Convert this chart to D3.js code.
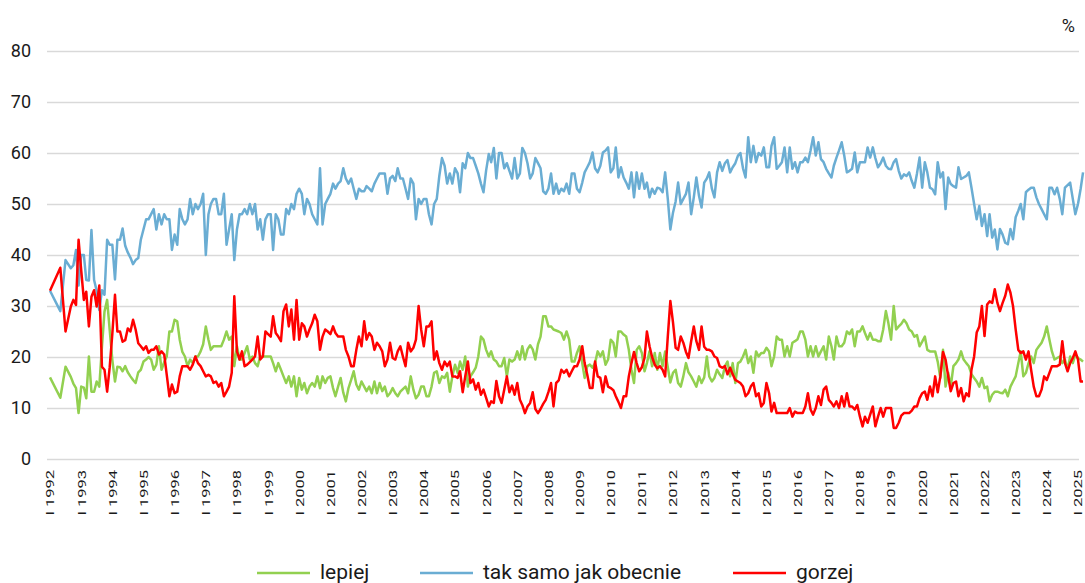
<!DOCTYPE html>
<html>
<head>
<meta charset="utf-8">
<script src="https://cdnjs.cloudflare.com/ajax/libs/d3/7.8.5/d3.min.js"></script>
<style>
  body { margin: 0; background: #ffffff; }
  svg { display: block; }
</style>
</head>
<body>
<div id="chart"></div>
<script>

//--------------------------------------
// DATA
//--------------------------------------

// 1992 had only a few survey months, monthly from 1993 on
const firstYearMonths = ["1992-01", "1992-05", "1992-07", "1992-09", "1992-10", "1992-11", "1992-12"];

const yTicks = [0, 10, 20, 30, 40, 50, 60, 70, 80];

const seriesNames = ["lepiej", "tak samo jak obecnie", "gorzej"];

const lepiej = [
  16, 12, 18.1, 16.1, 14.8, 13.9, 9,
  14.2, 14, 11.9, 20.1, 13.2, 13.2, 15.2, 14.2, 22, 28.9, 31.2, 25.3,
  19.4, 15.2, 18.1, 18, 17.2, 18.2, 17, 16.2, 15.5, 14.9, 17, 17.5,
  19.1, 19.5, 20, 19.5, 17.5, 18.5, 22.1, 17.5, 19, 20.1, 25, 25,
  27.3, 27, 23.4, 21, 20.1, 18.2, 19.5, 18.8, 20.1, 20.1, 21.1, 22.5,
  26, 23.4, 21.4, 22.1, 22.1, 22.1, 22.1, 23.4, 25, 23.4, 24, 18.2,
  22.1, 19.5, 19.5, 20.8, 22.1, 19.5, 20.1, 18.8, 18.2, 20.1, 20.1, 20.1,
  20.1, 20.1, 18.8, 17.2, 18.8, 17.5, 16.2, 14.9, 16.2, 14.2, 16.2, 12.3,
  15.9, 13.6, 14.9, 12.9, 14.2, 14.9, 14.2, 16.2, 13.9, 16.2, 14.9, 15.9,
  16.2, 13.9, 12.3, 14.2, 15.9, 13, 11.3, 13.9, 15.5, 17.2, 14.6, 13.6,
  15.2, 14.2, 13.3, 14.2, 12.9, 15.2, 12.9, 14.9, 13.3, 14.2, 12.3, 12.9,
  13.9, 12.9, 12.3, 13.2, 13.7, 14.2, 12.9, 16.2, 13.6, 11.9, 12.6, 14.2,
  14.2, 12.3, 12.3, 14.2, 16.9, 17.2, 14.9, 16.2, 15.9, 16.9, 13.2, 16.2,
  18.5, 16.9, 19.1, 17.5, 20.1, 14.2, 16.2, 17, 17.9, 20.1, 24, 23.4,
  21.4, 20.1, 21.1, 19.5, 19.1, 18.2, 18.2, 19.8, 16.2, 19.5, 19.1, 19.5,
  21.1, 19.5, 22.1, 19.5, 21.5, 22.3, 21.5, 19.5, 22.5, 24, 28, 28,
  26, 26, 25.4, 25.2, 25, 24.7, 23.4, 25, 23.4, 19.1, 19.1, 20.8,
  22.1, 18.8, 15.9, 18.2, 18.5, 17.9, 18.8, 21.1, 20.1, 21.1, 18.5, 19.5,
  23.4, 22.8, 20.1, 25, 25, 24.4, 24, 21.4, 17.5, 14.9, 21.4, 22.1,
  20.8, 17.2, 18.8, 21.1, 18.2, 20.8, 17.5, 20.8, 18.2, 21.1, 18, 15,
  16.9, 17.5, 14.9, 14.2, 16.2, 18.8, 17, 16.2, 15.2, 14.2, 16.2, 14.9,
  16, 20.1, 16.2, 15.2, 15.9, 17.5, 16.6, 15.9, 18.2, 19.1, 16.2, 18.8,
  14.9, 18.8, 19.1, 20.1, 21.4, 18.8, 20.1, 16.9, 21.1, 20.1, 20.8, 20.8,
  21.8, 21.1, 18.2, 20.1, 24, 23.4, 23.4, 20.1, 22.1, 20.1, 22.8, 23.1,
  23.5, 25, 25, 23.4, 20.1, 22.1, 20.1, 22.1, 20.1, 21.1, 22.1, 19.5,
  24, 22.1, 19.5, 24, 22.1, 22.1, 22.8, 25, 24.5, 25.4, 22.1, 25,
  25, 26, 24.7, 23.4, 24.7, 23.4, 23.4, 23.1, 23.1, 25.4, 29, 26.6,
  23.4, 30, 25.4, 26, 26.5, 27.3, 26.6, 25.4, 25, 24, 24.3, 22.1,
  23, 24, 21.4, 21.1, 21.1, 21.1, 19.1, 15.9, 21.4, 14.2, 16.9, 14.2,
  18.2, 18.8, 19.5, 21.1, 19.5, 18.8, 18.2, 16.6, 15.9, 15.2, 14.2, 15.9,
  13.9, 14.2, 11.3, 12.6, 13.2, 13.2, 13, 12.9, 13.6, 12.3, 14.2, 15.2,
  16.2, 18.8, 21.1, 16.2, 16.9, 18.8, 20.1, 18.8, 21.4, 22.1, 22.8, 24,
  26, 23.4, 21.1, 19.5, 19.8, 20.1, 18.8, 19.5, 17.5, 20.1, 18.8, 20.5,
  19.8, 19.5, 19.1
];

const takSamo = [
  33, 29, 39, 37.4, 38, 41, 34,
  40, 40, 35.1, 35, 44.9, 35.1, 33, 29.2, 33.1, 32.2, 43, 42,
  42, 35.2, 43, 43, 45.2, 41.8, 40.5, 39.5, 38.2, 39, 39.4, 43,
  45, 47, 47, 48, 49, 45, 48, 46, 48, 47, 47, 41,
  44, 42, 49, 47, 46, 47, 51, 48, 50, 49, 50, 52,
  40, 48, 50, 51, 51, 48, 48, 52, 42, 45, 48, 39,
  45, 48, 48, 49, 48, 50, 48, 50, 45, 47, 43, 47,
  48, 48, 41, 48, 47, 44, 44, 49, 48, 50, 49, 52,
  53, 52, 48, 51, 50, 48, 47, 46, 57, 46, 50, 51,
  52, 54, 53, 54, 54.5, 57, 55, 54, 55, 53, 51, 53,
  52.5, 52.5, 53.5, 53, 52.5, 54, 55, 56, 56, 56, 52, 55,
  55.5, 54.5, 57, 55, 55, 53, 51, 55, 54, 47, 51, 50,
  51, 51, 48, 46, 50, 51, 55.5, 59, 57.5, 54, 56, 54,
  57, 56, 52.3, 58, 57, 60, 59, 59, 57.5, 56, 54, 52.3,
  56.6, 59.8, 58.2, 61, 55, 60, 60, 57, 58, 56.5, 55, 59,
  55, 56, 61, 60, 58, 55, 56, 59, 58, 57, 52.5, 52,
  53, 56, 52, 54, 52, 53, 52.5, 54, 52, 56, 56, 53,
  52.3, 54.2, 56.2, 57.2, 58.2, 60.1, 57, 56.2, 57.5, 60.1, 60.5, 61.1,
  56.2, 57, 61.1, 55.2, 57.2, 55.2, 54.2, 53, 56.2, 51.3, 56.2, 53,
  56, 53, 54.2, 51.3, 53, 52, 53.2, 53, 52.3, 56.2, 51, 45,
  48.3, 50.5, 54.2, 50, 51, 52, 54.2, 48, 51.3, 55.2, 51.6, 49.3,
  54.2, 55, 56.2, 53, 51.3, 56.2, 58.2, 56.5, 58, 58.6, 56.2, 57.2,
  58, 59.5, 60, 57, 55.2, 63.1, 58.2, 61.4, 58.2, 60, 59.5, 61.1,
  57.2, 57.2, 61.4, 63.1, 56.9, 57.5, 58.2, 61.1, 56.2, 61.1, 56.9, 58.2,
  56.2, 58.2, 58.2, 59.1, 58.2, 60.5, 63.1, 59.5, 62.1, 58.8, 58.2, 56.9,
  56, 55.2, 57.5, 59.1, 60.5, 62.1, 59.5, 56.2, 56.5, 56.9, 60.1, 56.2,
  58.2, 58.2, 58.2, 61.1, 59.1, 61.1, 59, 57.2, 58, 59.1, 57.5, 56.9,
  56.8, 58.2, 58.8, 56.5, 55, 55.8, 55.5, 56.2, 54.5, 53.2, 56, 59.1,
  53.2, 58.2, 56.2, 53.2, 52.9, 51.9, 58.2, 55.2, 56.2, 49, 55.2, 53.9,
  53.5, 53.2, 57.2, 54.9, 55.2, 55.5, 56.2, 53.2, 50, 47, 49.6, 45.7,
  48, 43.7, 48, 43.4, 45, 41.1, 45.1, 44, 42.4, 42.1, 45.1, 43.1,
  47.4, 48.7, 50, 47, 52.3, 52.8, 53.2, 53.2, 51.3, 50, 49, 48,
  47, 53.2, 53.2, 51.9, 53.2, 51, 48, 53.2, 53.7, 54.2, 51, 48,
  50, 53, 56.2
];

const gorzej = [
  33, 37.5, 25, 29.9, 31.2, 30.2, 43,
  37, 31.2, 32.8, 26, 31.8, 33.1, 29.9, 34, 18.1, 17.5, 13.2, 18,
  24.6, 32.2, 25, 25, 23, 23.3, 25.6, 25, 27.3, 25.4, 22.7, 22.1,
  21.4, 22.1, 20.8, 21.4, 21.4, 22.1, 20.5, 21.1, 20.5, 16.5, 12.3, 14.6,
  12.9, 13.2, 16.2, 18.2, 18.2, 18.2, 17.5, 18.5, 20.1, 18.8, 18.2, 17.2,
  16.2, 16.5, 16.2, 14.9, 15.2, 14.2, 14.9, 12.3, 13.2, 14.2, 16.9, 31.9,
  21.1, 19.5, 21.1, 18.2, 18.5, 19, 19.5, 20.1, 24, 19.5, 20.1, 25,
  24.5, 24, 28, 24.7, 24, 23.1, 29, 30.3, 26, 29.3, 23.4, 31.2,
  23.4, 26.6, 26, 24, 25.4, 26.6, 28.3, 27, 21.4, 24, 25.4, 25,
  24.5, 26, 24.7, 24, 24, 24, 21.4, 20.1, 18.2, 18.2, 21.4, 24,
  22.1, 27, 23.4, 24.7, 24, 21.4, 22.8, 22.1, 21.1, 18.2, 19.5, 22.8,
  19.8, 19.5, 21.1, 22.1, 20.1, 18.2, 22.8, 21.1, 21.8, 23.4, 30, 25.4,
  22.1, 26, 26, 27, 19.5, 21.1, 18.8, 17.5, 19.1, 18.2, 19.1, 16.2,
  16.2, 15.9, 17.2, 13.1, 16.2, 19.1, 14.9, 15.6, 13.6, 14.9, 12.6, 13.6,
  12, 10.3, 11.3, 11, 15.3, 12.3, 11, 13.6, 16.2, 13.1, 14.4, 12.6,
  14.9, 11.6, 10.6, 9, 10.3, 11, 13.1, 9.8, 9, 9.8, 10.8, 11.6,
  13.1, 14.9, 10.3, 14.9, 15.4, 17.5, 16.9, 17.5, 16.2, 17.2, 18.2, 18.2,
  19.5, 22.1, 18.8, 16.5, 13.9, 13.9, 19.1, 16.2, 15.9, 13.1, 16.2, 14.2,
  13.9, 13.5, 12.3, 11.2, 10, 12.3, 12.3, 16.2, 18.8, 21, 18.8, 17.2,
  18, 19.8, 25, 22.1, 20, 18.5, 17.8, 18.2, 17.5, 16.2, 24, 31,
  26.8, 21.8, 21.4, 24, 22.8, 21, 19.8, 23.1, 26, 23.1, 21.4, 26,
  22, 21.4, 21.4, 21.1, 20.1, 19.8, 18.2, 17.9, 18.2, 16.6, 17.9, 16.6,
  15.5, 15.2, 14.9, 14.2, 12.3, 12.9, 14.2, 14.9, 12.3, 12.9, 10.3, 11,
  14.9, 12.9, 9.3, 11, 9, 9, 9, 9, 9, 10, 8.3, 9.3,
  9, 9, 9, 10.3, 12.9, 9.7, 8.7, 10, 12.3, 10.6, 13.6, 14.2,
  11.6, 11, 10.3, 11.3, 10, 12.3, 10.3, 12.9, 10.3, 10.3, 9.7, 10.6,
  8.3, 6.4, 8.3, 7.1, 8.7, 10.3, 6.4, 8.3, 10, 8.3, 10, 10,
  10, 6.1, 6.1, 7.1, 8.5, 9, 9, 9, 9.5, 10.3, 10.3, 11.9,
  12.9, 13.2, 11.6, 14.2, 12.3, 16.2, 13.1, 16.2, 21, 19.5, 16.2, 13.3,
  14.9, 15.2, 12.3, 13.9, 11.3, 12.9, 12.3, 17.5, 20.1, 24.8, 26, 30,
  24.1, 30.3, 30.9, 30.6, 33.3, 30.6, 29, 30.6, 32, 34.2, 32.6, 30,
  25.4, 21.4, 20.8, 21.1, 19.5, 21.1, 17.5, 14.2, 12.3, 12.3, 13.6, 16.2,
  15.5, 16.9, 18.2, 18.2, 18.2, 18.5, 23.1, 18.8, 17.2, 18.8, 19.8, 21.1,
  19.5, 15.2, 15.2
];



//--------------------------------------
// SETUP
//--------------------------------------

var W = 1085, H = 583;
var fontFamily = "Roboto, 'Open Sans', Arial, sans-serif";
var colors = ["#92d050", "#6aadd3", "#ff0000"];

var parseMonth = d3.timeParse("%Y-%m");
var dates = firstYearMonths.map(parseMonth)
  .concat(d3.timeMonth.range(new Date(1993, 0, 1), new Date(2025, 3, 1)));

var svg = d3.select("#chart").append("svg")
  .attr("width", W)
  .attr("height", H);

var x = d3.scaleTime()
  .domain([new Date(1992, 0, 1), new Date(2025, 0, 1)])
  .range([50, 1078]);

var y = d3.scaleLinear()
  .domain([0, 80])
  .range([459, 51]);


// grid + y labels
var yAxis = svg.append("g")
  .attr("transform", "translate(47,0)")
  .call(d3.axisLeft(y).tickValues(yTicks).tickSize(-1032).tickPadding(16));

yAxis.select(".domain").remove();
yAxis.selectAll("line")
  .attr("stroke", "#d9d9d9")
  .attr("stroke-width", 1.5);
yAxis.selectAll("text")
  .attr("font-family", fontFamily)
  .attr("font-size", 18)
  .attr("fill", "#1a1a1a");


// x labels, rotated (they come out a bit squeezed in the original)
var xAxis = svg.append("g")
  .attr("transform", "translate(0,459)")
  .call(d3.axisBottom(x)
    .ticks(d3.timeYear.every(1))
    .tickSize(0)
    .tickFormat(function (d) { return "I " + d.getFullYear(); }));

xAxis.select(".domain").remove();
xAxis.selectAll("text")
  .attr("transform", "rotate(-90) scale(1,0.68)")
  .attr("x", -11)
  .attr("y", 0)
  .attr("dy", "0.35em")
  .style("text-anchor", "end")
  .attr("font-family", fontFamily)
  .attr("font-size", 16.5)
  .attr("fill", "#1a1a1a");


// unit
svg.append("text")
  .attr("x", 1075)
  .attr("y", 32)
  .attr("text-anchor", "end")
  .attr("font-family", fontFamily)
  .attr("font-size", 18)
  .attr("fill", "#1a1a1a")
  .text("%");



//--------------------------------------
// LINES
//--------------------------------------

var line = d3.line()
  .x(function (d, i) { return x(dates[i]); })
  .y(function (d) { return y(d); });

[lepiej, takSamo, gorzej].forEach(function (values, k) {
  svg.append("path")
    .datum(values)
    .attr("fill", "none")
    .attr("stroke", colors[k])
    .attr("stroke-width", 2.5)
    .attr("stroke-linejoin", "round")
    .attr("d", line);
});



//--------------------------------------
// LEGEND
//--------------------------------------

var legendX = [257, 420, 733];
var legend = svg.append("g");

seriesNames.forEach(function (name, k) {
  legend.append("line")
    .attr("x1", legendX[k])
    .attr("x2", legendX[k] + 53)
    .attr("y1", 573)
    .attr("y2", 573)
    .attr("stroke", colors[k])
    .attr("stroke-width", 2.5);

  legend.append("text")
    .attr("x", legendX[k] + 63)
    .attr("y", 579)
    .attr("font-family", fontFamily)
    .attr("font-size", 21)
    .attr("fill", "#1a1a1a")
    .text(name);
});

</script>
</body>
</html>
